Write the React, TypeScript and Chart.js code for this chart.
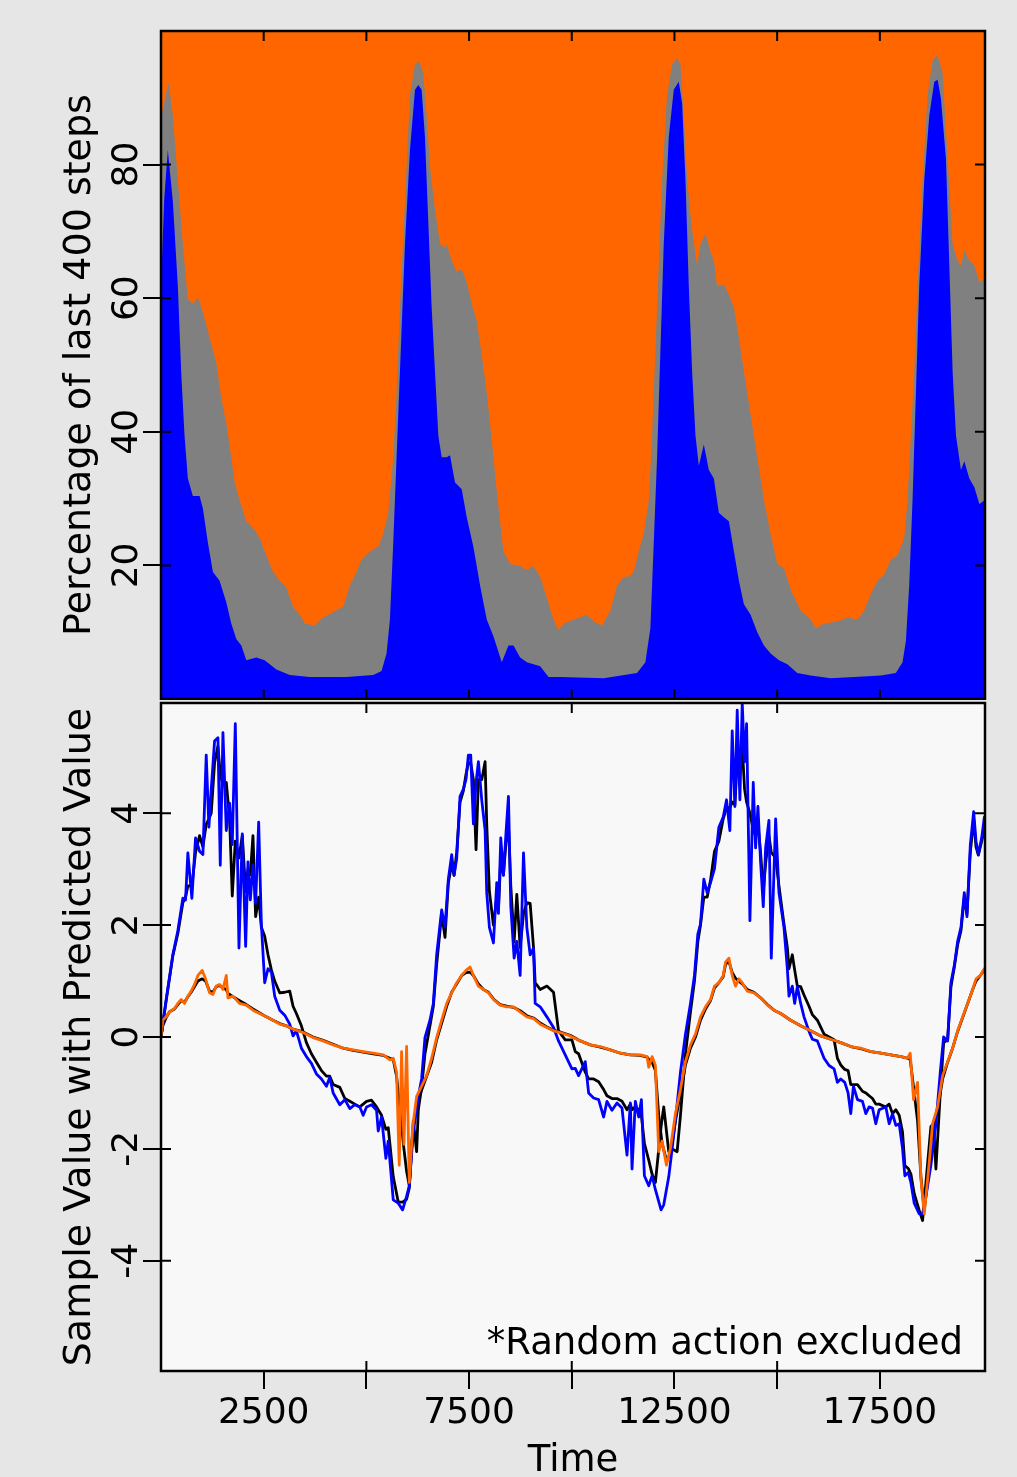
import React, { useEffect, useRef } from 'react';
import { Chart, registerables } from 'chart.js';

Chart.register(...registerables);

const FONT = '"DejaVu Sans", sans-serif';
const X_MAX = 20060;

// ---------- Top panel: cumulative percentage boundaries ----------
const bluePctTime = [
  0, 80, 166, 288, 410, 491, 573, 654, 776, 939,
  1020, 1142, 1264, 1426, 1589, 1711, 1833, 1955, 2077, 2321,
  2524, 2809, 3134, 3622, 4028, 4516, 5166, 5369, 5491, 5573,
  5654, 5735, 5817, 5939, 6061, 6183, 6264, 6345, 6426, 6508,
  6589, 6670, 6752, 6833, 6955, 7036, 7158, 7321, 7443, 7605,
  7768, 7930, 8093, 8296, 8459, 8581, 8743, 8906, 9231, 9434,
  9719, 10776, 11589, 11792, 11914, 11996, 12077, 12158, 12239, 12361,
  12483, 12605, 12687, 12768, 12849, 12930, 13012, 13093, 13215, 13337,
  13459, 13581, 13703, 13825, 13947, 14069, 14191, 14353, 14516, 14678,
  14841, 15044, 15248, 15491, 15817, 16304, 16874, 17524, 17890, 18052,
  18134, 18215, 18296, 18378, 18459, 18581, 18703, 18825, 18906, 18987,
  19109, 19191, 19272, 19354, 19475, 19556, 19679, 19801, 19923, 20060,
];
const bluePct = [
  62, 75, 82.2, 74.5, 61.8, 49, 39.4, 33, 30.4, 30.4,
  28.5, 23.4, 19, 17.7, 14.5, 11.3, 9, 8, 5.8, 6.2,
  5.8, 4.4, 3.6, 3.3, 3.3, 3.3, 3.6, 4.2, 6.8, 11.9,
  23.4, 36.2, 49, 68.1, 82.2, 91.2, 91.9, 91.2, 84.1, 71.3,
  58.6, 49, 39.4, 36.2, 36.2, 36.5, 32.4, 31.4, 27.2, 22.8,
  17, 11.9, 9.4, 5.5, 8, 8, 6.2, 5.5, 4.9, 3.3,
  3.3, 3.1, 3.9, 5.5, 10.6, 23.4, 36.2, 52.2, 68.1, 84.1,
  91.2, 92.4, 89.2, 77.7, 61.8, 49, 39.4, 34.9, 38.1, 34.3,
  33, 27.9, 27.2, 26.6, 22.1, 17.7, 14.2, 12.6, 10, 8,
  6.8, 5.8, 5.2, 3.9, 3.5, 3.1, 3.3, 3.5, 3.9, 5.5,
  8.7, 17, 29.8, 45.8, 61.8, 77.7, 87.3, 92.4, 92.7, 89.9,
  80.9, 65, 49, 39.4, 34.3, 35.6, 33, 31.7, 29.2, 29.8,
];

const blueGrayPctTime = [
  0, 183, 288, 410, 532, 654, 776, 898, 1020, 1183,
  1345, 1467, 1589, 1711, 1792, 1914, 2077, 2280, 2402, 2565,
  2727, 2890, 3052, 3215, 3378, 3500, 3743, 3947, 4150, 4435,
  4597, 4760, 4882, 5085, 5288, 5410, 5532, 5654, 5735, 5817,
  5939, 6061, 6183, 6280, 6386, 6467, 6548, 6670, 6792, 6914,
  6955, 7077, 7199, 7321, 7443, 7565, 7687, 7808, 7930, 8052,
  8174, 8337, 8500, 8743, 8906, 9069, 9231, 9394, 9556, 9678,
  9801, 10044, 10370, 10532, 10735, 10939, 11101, 11264, 11386, 11508,
  11630, 11752, 11874, 11955, 12036, 12117, 12199, 12321, 12443, 12565,
  12646, 12727, 12809, 12930, 13052, 13134, 13256, 13378, 13459, 13540,
  13703, 13825, 13947, 14069, 14191, 14353, 14516, 14678, 14841, 15004,
  15166, 15329, 15573, 15817, 15939, 16142, 16467, 16711, 16955, 17117,
  17280, 17443, 17605, 17768, 17930, 18093, 18174, 18256, 18337, 18418,
  18540, 18662, 18784, 18906, 19028, 19150, 19272, 19394, 19475, 19556,
  19679, 19801, 19923, 20060,
];
const blueGrayPct = [
  87, 92.3, 87.3, 77.7, 68.1, 59.8, 59.2, 60.1, 57.9, 54.1,
  50.3, 45.1, 41.3, 36.2, 32.4, 29.8, 26.6, 25.3, 24.1, 21.5,
  19, 17.7, 16.7, 13.8, 12.6, 11.3, 11, 12.2, 12.9, 13.8,
  17, 19, 20.9, 22.1, 22.8, 24.7, 27.9, 36.2, 45.8, 58.6,
  74.5, 90.5, 95, 95.5, 93.7, 87.3, 79.7, 73.3, 68.1, 67.5,
  68.1, 65.6, 64, 64.3, 62.4, 59.2, 56.6, 51.5, 45.8, 38.8,
  31.1, 22.1, 20.2, 19.9, 19.3, 19.9, 18.3, 15.1, 11.9, 10.3,
  11.3, 11.9, 12.6, 11.6, 11, 13.2, 17, 18.3, 18.3, 19,
  22.1, 24.7, 29.8, 39.4, 52.2, 64.9, 77.7, 90.5, 95, 96,
  95, 87.3, 77.7, 70.1, 64.9, 68.1, 69.7, 66.9, 65.6, 61.8,
  62.1, 60.5, 58.6, 54.1, 49, 42.6, 36.2, 29.8, 24.7, 20.2,
  19.6, 16.4, 13.2, 11.9, 10.6, 11.3, 11.6, 12.2, 11.9, 13.2,
  15.7, 17.7, 18.6, 20.9, 21.5, 24.1, 29.8, 39.4, 49, 61.8,
  77.7, 90.5, 95.6, 96.4, 93.7, 80.9, 68.1, 65.6, 64.9, 67.2,
  65.6, 64.9, 62.4, 63,
];

const totalPctTime = [0, 20060];
const totalPct = [100, 100];

const yTopTicks = [20, 40, 60, 80];
const xMinorTicks = [2500, 5000, 7500, 10000, 12500, 15000, 17500];
const xMajorTicks = [5000, 10000, 15000];
const xTickLabels = ['2500', '7500', '12500', '17500'];

// ---------- Bottom panel: sample vs predicted ----------
const bigTime = [
  0, 126, 288, 410, 532, 597, 654, 752, 841, 939,
  1020, 1101, 1166, 1223, 1304, 1386, 1443, 1508, 1589, 1670,
  1735, 1809, 1898, 1979, 2061, 2117, 2174, 2239, 2304, 2378,
  2443, 2524, 2605, 2687, 2768, 2890, 3012, 3134, 3215, 3296,
  3418, 3540, 3662, 3784, 3906, 4028, 4109, 4191, 4353, 4475,
  4597, 4719, 4841, 4922, 5004, 5126, 5248, 5288, 5369, 5475,
  5532, 5654, 5776, 5882, 5979, 6044, 6142, 6223, 6264, 6345,
  6426, 6548, 6630, 6711, 6833, 6914, 6995, 7077, 7134, 7199,
  7280, 7361, 7426, 7483, 7540, 7605, 7670, 7727, 7808, 7890,
  7930, 7995, 8093, 8174, 8215, 8272, 8337, 8402, 8459, 8516,
  8597, 8662, 8743, 8825, 8906, 8987, 9069, 9109, 9231, 9394,
  9556, 9678, 9841, 10004, 10085, 10166, 10329, 10410, 10532, 10654,
  10776, 10857, 10979, 11101, 11223, 11345, 11426, 11467, 11548, 11630,
  11695, 11768, 11874, 11955, 12036, 12174, 12239, 12361, 12443, 12565,
  12646, 12768, 12890, 12987, 13069, 13134, 13215, 13296, 13378, 13475,
  13581, 13687, 13768, 13849, 13906, 13971, 14028, 14093, 14150, 14207,
  14256, 14337, 14418, 14475, 14532, 14597, 14662, 14719, 14800, 14857,
  14963, 15044, 15166, 15248, 15288, 15369, 15426, 15491, 15573, 15654,
  15776, 15857, 15979, 16142, 16264, 16386, 16467, 16548, 16646, 16727,
  16792, 16857, 16955, 17077, 17158, 17239, 17321, 17402, 17483, 17646,
  17727, 17808, 17890, 17971, 18052, 18109, 18191, 18256, 18337, 18459,
  18540, 18622, 18743, 18808, 18865, 18971, 19053, 19150, 19231, 19313,
  19394, 19475, 19556, 19621, 19703, 19784, 19841, 19898, 19979, 20044,
];
const bluePredicted = [
  0, 0.67, 1.47, 1.9, 2.48, 2.45, 3.29, 2.48, 3.56, 3.32,
  3.26, 5.04, 3.75, 4.43, 5.29, 5.35, 3.07, 5.44, 3.69, 4.18,
  3.44, 5.6, 1.59, 3.63, 1.62, 3.13, 2.45, 3.07, 2.39, 3.84,
  2.02, 0.97, 1.22, 1.16, 0.73, 0.48, 0.39, 0.23, 0.02, 0.11,
  -0.2, -0.35, -0.47, -0.66, -0.75, -0.88, -0.72, -1.0, -1.21, -1.12,
  -1.28, -1.21, -1.25, -1.4, -1.25, -1.21, -1.31, -1.68, -1.43, -2.17,
  -1.86, -2.91, -2.97, -3.09, -2.85, -2.66, -1.68, -1.3, -1.06, -0.75,
  -0.01, 0.3, 0.6, 1.47, 2.27, 1.96, 2.82, 3.26, 2.89, 3.19,
  4.3, 4.43, 4.61, 5.04, 5.04, 3.81, 4.55, 4.92, 4.24, 3.7,
  2.58, 1.96, 1.68, 2.76, 2.21, 3.56, 2.89, 3.69, 4.3, 2.33,
  1.41, 1.71, 1.1, 3.29, 1.96, 1.47, 1.59, 0.6, 0.54, 0.36,
  0.17, -0.07, -0.32, -0.57, -0.56, -0.69, -0.44, -1.0, -1.09, -1.12,
  -1.43, -1.15, -1.31, -1.18, -1.27, -2.11, -1.18, -2.36, -1.15, -1.43,
  -1.12, -2.48, -2.66, -2.48, -2.73, -3.09, -3.0, -2.5, -2.0, -1.2,
  -0.63, 0.05, 0.6, 1.1, 1.84, 2.02, 2.82, 2.58, 2.76, 3.01,
  3.75, 3.93, 4.24, 3.69, 5.47, 4.12, 5.84, 4.24, 5.97, 4.92,
  5.6, 2.08, 4.55, 3.38, 4.12, 3.13, 2.33, 3.38, 3.87, 1.41,
  3.9, 2.58, 1.96, 1.22, 0.73, 0.91, 0.6, 0.9, 0.6, 0.36,
  0.1, -0.04, -0.07, -0.38, -0.51, -0.57, -0.81, -0.75, -0.81, -1.0,
  -1.37, -0.88, -1.12, -1.15, -1.37, -1.25, -1.27, -1.55, -1.3, -1.25,
  -1.55, -1.37, -1.58, -1.55, -1.99, -2.48, -2.42, -2.6, -2.97, -3.16,
  -3.16, -2.85, -2.29, -1.9, -1.55, -0.63, 0.0, -0.07, 0.97, 1.28,
  1.71, 1.96, 2.58, 2.15, 3.44, 4.03, 3.5, 3.26, 3.56, 3.93,
];
const blackSample = [
  0, 0.65, 1.45, 1.85, 2.4, 2.5, 2.7, 2.7, 3.3, 3.6,
  3.4, 3.8, 3.9, 4.0, 4.9, 5.2, 4.7, 4.5, 4.55, 3.9,
  2.52, 3.5, 3.2, 3.6, 2.6, 3.0, 2.9, 3.6, 2.15, 2.5,
  1.96, 1.8, 1.47, 1.2, 1.0, 0.79, 0.8, 0.82, 0.55, 0.42,
  0.2, -0.1, -0.3, -0.45, -0.6, -0.7, -0.7, -0.85, -0.9, -1.1,
  -1.15, -1.2, -1.25, -1.2, -1.15, -1.13, -1.25, -1.3, -1.4, -1.65,
  -1.62, -2.5, -2.95, -2.95, -2.9, -2.7, -1.5, -2.05, -1.3, -0.9,
  -0.3, 0.2, 0.55, 1.3, 2.2, 1.78, 2.75, 3.1, 2.89, 3.3,
  4.2, 4.4, 4.7, 4.9, 4.9, 4.6, 3.35, 4.6, 4.6, 4.92,
  3.8, 2.6, 2.0, 2.5, 2.3, 3.2, 2.9, 3.5, 3.8, 2.7,
  1.7, 2.55, 1.6, 2.2, 2.4, 2.39, 1.6, 0.97, 0.85, 0.91,
  0.8, 0.11, -0.05, -0.05, -0.26, -0.3, -0.63, -0.75, -0.75, -0.8,
  -0.94, -1.05, -1.1, -1.1, -1.15, -1.3, -1.2, -1.3, -1.25, -1.3,
  -1.4, -1.9, -2.2, -2.45, -2.6, -1.6, -1.25, -2.05, -2.0, -2.05,
  -1.4, -0.3, 0.45, 1.0, 1.7, 2.0, 2.5, 2.5, 2.8, 3.32,
  3.5, 3.9, 4.1, 4.1, 4.2, 4.15, 4.92, 4.7, 5.2, 4.43,
  4.2, 4.0, 3.7, 3.6, 3.8, 3.3, 2.6, 3.1, 3.6, 3.3,
  3.2, 2.7, 2.02, 1.6, 1.22, 1.47, 1.2, 0.91, 0.9, 0.75,
  0.55, 0.4, 0.3, 0.05, 0.0, -0.05, -0.38, -0.5, -0.58, -0.6,
  -0.85, -0.85, -0.85, -0.97, -1.0, -1.05, -1.1, -1.2, -1.2, -1.25,
  -1.2, -1.37, -1.3, -1.4, -1.7, -2.3, -2.35, -2.45, -2.8, -3.1,
  -3.28, -2.6, -1.6, -1.55, -2.36, -1.0, -0.1, -0.05, 0.9, 1.25,
  1.65, 1.9, 2.5, 2.2, 3.3, 3.9, 3.4, 3.25, 3.5, 3.7,
];

const smallTime = [
  0, 44, 126, 207, 329, 410, 491, 573, 654, 735,
  817, 898, 1004, 1085, 1183, 1264, 1345, 1426, 1508, 1589,
  1630, 1752, 1914, 2077, 2239, 2402, 2565, 2727, 2890, 3052,
  3215, 3459, 3703, 3947, 4191, 4435, 4678, 4922, 5166, 5410,
  5573, 5654, 5735, 5800, 5857, 5914, 5979, 6044, 6126, 6223,
  6345, 6467, 6589, 6711, 6833, 6955, 7077, 7199, 7321, 7426,
  7524, 7605, 7727, 7849, 7971, 8093, 8256, 8418, 8581, 8743,
  8906, 9069, 9231, 9394, 9556, 9719, 9963, 10207, 10451, 10695,
  10939, 11183, 11426, 11670, 11833, 11874, 11955, 12036, 12117, 12199,
  12304, 12402, 12524, 12646, 12768, 12890, 13012, 13134, 13256, 13378,
  13475, 13581, 13687, 13744, 13825, 13906, 13987, 14069, 14150, 14272,
  14435, 14597, 14760, 14922, 15085, 15329, 15573, 15817, 16061, 16304,
  16548, 16792, 17036, 17280, 17524, 17768, 18012, 18174, 18239, 18321,
  18418, 18500, 18581, 18703, 18784, 18906, 19028, 19150, 19272, 19394,
  19516, 19638, 19760, 19841, 19947, 20044,
];
const orangePredicted = [
  0, 0.3, 0.36, 0.45, 0.51, 0.6, 0.67, 0.6, 0.73, 0.82,
  0.94, 1.1, 1.19, 1.04, 0.79, 0.76, 0.91, 0.94, 0.85, 1.1,
  0.7, 0.73, 0.6, 0.57, 0.48, 0.42, 0.36, 0.3, 0.23, 0.2,
  0.14, 0.08, -0.01, -0.07, -0.14, -0.2, -0.23, -0.26, -0.29, -0.32,
  -0.41, -0.38, -0.63, -2.29, -0.26, -1.92, -0.17, -2.6, -1.62, -1.06,
  -0.88, -0.69, -0.38, -0.01, 0.3, 0.6, 0.79, 0.97, 1.1, 1.19,
  1.25, 1.1, 0.91, 0.85, 0.79, 0.67, 0.57, 0.54, 0.54, 0.45,
  0.36, 0.33, 0.23, 0.17, 0.11, 0.08, 0.02, -0.07, -0.14, -0.17,
  -0.23, -0.29, -0.32, -0.32, -0.35, -0.54, -0.35, -0.51, -2.05, -1.86,
  -2.29, -1.99, -1.37, -0.94, -0.44, -0.14, 0.05, 0.36, 0.54, 0.67,
  0.91, 0.97, 1.1, 1.34, 1.41, 1.1, 0.91, 1.04, 0.97, 0.82,
  0.79, 0.7, 0.57, 0.48, 0.42, 0.3, 0.2, 0.11, 0.02, -0.04,
  -0.1, -0.17, -0.2, -0.26, -0.29, -0.32, -0.35, -0.38, -0.29, -1.12,
  -0.81, -2.54, -3.16, -2.23, -1.55, -1.25, -0.69, -0.44, -0.2, 0.11,
  0.36, 0.6, 0.85, 1.04, 1.1, 1.22,
];
const blackSampleSmall = [
  0, 0.2, 0.35, 0.45, 0.5, 0.58, 0.65, 0.62, 0.72, 0.8,
  0.9, 1.0, 1.04, 1.0, 0.82, 0.8, 0.9, 0.92, 0.88, 0.85,
  0.78, 0.72, 0.65, 0.58, 0.5, 0.43, 0.36, 0.3, 0.24, 0.2,
  0.14, 0.09, 0.0, -0.06, -0.13, -0.2, -0.24, -0.27, -0.3, -0.33,
  -0.38, -0.4, -0.7, -1.2, -1.6, -2.0, -2.4, -2.66, -1.7, -1.2,
  -0.95, -0.7, -0.45, -0.05, 0.25, 0.55, 0.8, 0.95, 1.1, 1.15,
  1.16, 1.1, 0.95, 0.85, 0.8, 0.68, 0.58, 0.55, 0.53, 0.47,
  0.38, 0.34, 0.25, 0.18, 0.12, 0.09, 0.03, -0.07, -0.14, -0.18,
  -0.23, -0.29, -0.32, -0.33, -0.36, -0.4, -0.45, -0.6, -1.4, -1.9,
  -2.2, -2.1, -1.5, -1.0, -0.5, -0.2, 0.0, 0.3, 0.5, 0.65,
  0.88, 0.97, 1.08, 1.3, 1.35, 1.15, 1.05, 1.0, 0.95, 0.85,
  0.8, 0.7, 0.58, 0.48, 0.42, 0.3, 0.2, 0.11, 0.02, -0.04,
  -0.1, -0.17, -0.21, -0.26, -0.29, -0.32, -0.35, -0.38, -0.4, -0.9,
  -1.5, -2.5, -3.1, -2.3, -1.6, -1.3, -0.75, -0.45, -0.2, 0.1,
  0.35, 0.6, 0.85, 1.0, 1.1, 1.2,
];

const yBottomTicks = [-4, -2, 0, 2, 4];

function pts(t: number[], v: number[]) {
  return t.map((x, i) => ({ x, y: v[i] }));
}

function framePlugin(opts: { yTicks: number[]; xTop: number[]; xBottom: number[]; bg?: string; note?: string }) {
  return {
    id: 'frameTicks',
    beforeDraw(chart: any) {
      if (!opts.bg) return;
      const { ctx, chartArea: a } = chart;
      ctx.save();
      ctx.fillStyle = opts.bg;
      ctx.fillRect(a.left, a.top, a.right - a.left, a.bottom - a.top);
      ctx.restore();
    },
    afterDraw(chart: any) {
      const { ctx, chartArea: a, scales } = chart;
      const xs = scales.x;
      const ys = scales.y;
      ctx.save();
      ctx.strokeStyle = '#000';
      ctx.lineWidth = 2;
      ctx.beginPath();
      for (const v of opts.yTicks) {
        const y = ys.getPixelForValue(v);
        ctx.moveTo(a.left, y);
        ctx.lineTo(a.left + 10, y);
        ctx.moveTo(a.right - 10, y);
        ctx.lineTo(a.right, y);
      }
      for (const v of opts.xTop) {
        const x = xs.getPixelForValue(v);
        ctx.moveTo(x, a.top);
        ctx.lineTo(x, a.top + 10);
      }
      for (const v of opts.xBottom) {
        const x = xs.getPixelForValue(v);
        ctx.moveTo(x, a.bottom);
        ctx.lineTo(x, a.bottom - 10);
      }
      ctx.stroke();
      ctx.lineWidth = 2.5;
      ctx.strokeRect(a.left, a.top, a.right - a.left, a.bottom - a.top);
      if (opts.note) {
        ctx.font = `37px ${FONT}`;
        ctx.fillStyle = '#000';
        ctx.textAlign = 'right';
        ctx.textBaseline = 'alphabetic';
        ctx.fillText(opts.note, a.right - 22, a.bottom - 17);
      }
      ctx.restore();
    },
  };
}

function TopChart() {
  const ref = useRef<HTMLCanvasElement | null>(null);
  useEffect(() => {
    if (!ref.current) return;
    const area = (color: string, order: number, data: any[]) => ({
      data,
      order,
      backgroundColor: color,
      borderColor: color,
      borderWidth: 0,
      pointRadius: 0,
      fill: 'origin',
      tension: 0,
    });
    const chart = new Chart(ref.current, {
      type: 'line',
      data: {
        datasets: [
          { label: 'Blue', ...area('#0000ff', 0, pts(bluePctTime, bluePct)) },
          { label: 'Gray', ...area('#808080', 1, pts(blueGrayPctTime, blueGrayPct)) },
          { label: 'Orange', ...area('#ff6600', 2, pts(totalPctTime, totalPct)) },
        ],
      } as any,
      options: {
        responsive: false,
        animation: false,
        events: [],
        layout: { padding: { top: 31, right: 32, bottom: 1, left: 0 } },
        plugins: { legend: { display: false }, tooltip: { enabled: false } },
        scales: {
          x: { type: 'linear', display: false, min: 0, max: X_MAX },
          y: {
            type: 'linear',
            min: 0,
            max: 100,
            afterBuildTicks: (s: any) => {
              s.ticks = yTopTicks.map((v) => ({ value: v }));
            },
            afterFit: (s: any) => {
              s.width = 161;
            },
            grid: { drawOnChartArea: false, drawTicks: true, tickLength: 18, color: '#000', lineWidth: 2 },
            border: { display: false },
            ticks: {
              font: { size: 36, family: FONT, lineHeight: 0.05 },
              color: '#000',
              minRotation: 90,
              maxRotation: 90,
              crossAlign: 'center',
              padding: -7.4,
            },
            title: {
              display: true,
              text: 'Percentage of last 400 steps',
              color: '#000',
              font: { size: 38, family: FONT, lineHeight: 1 },
              padding: { top: 61.2, bottom: 0 },
            },
          },
        },
      } as any,
      plugins: [framePlugin({ yTicks: yTopTicks, xTop: xMinorTicks, xBottom: xMinorTicks })],
    });
    return () => chart.destroy();
  }, []);
  return <canvas ref={ref} width={1017} height={700} style={{ position: 'absolute', left: 0, top: 0 }} />;
}

function BottomChart() {
  const ref = useRef<HTMLCanvasElement | null>(null);
  useEffect(() => {
    if (!ref.current) return;
    const line = (color: string, order: number, data: any[]) => ({
      data,
      order,
      borderColor: color,
      backgroundColor: color,
      borderWidth: 2.8,
      pointRadius: 0,
      fill: false,
      tension: 0,
      borderJoinStyle: 'round',
      borderCapStyle: 'round',
    });
    const chart = new Chart(ref.current, {
      type: 'line',
      data: {
        datasets: [
          { label: 'Predicted (small)', ...line('#ff6600', 0, pts(smallTime, orangePredicted)) },
          { label: 'Predicted', ...line('#0000ff', 1, pts(bigTime, bluePredicted)) },
          { label: 'Sample (small)', ...line('#000000', 2, pts(smallTime, blackSampleSmall)) },
          { label: 'Sample', ...line('#000000', 3, pts(bigTime, blackSample)) },
        ],
      } as any,
      options: {
        responsive: false,
        animation: false,
        events: [],
        layout: { padding: { top: 3, right: 32, bottom: 0, left: 0 } },
        plugins: { legend: { display: false }, tooltip: { enabled: false } },
        scales: {
          x: {
            type: 'linear',
            min: 0,
            max: X_MAX,
            afterBuildTicks: (s: any) => {
              s.ticks = xMinorTicks.map((v) => ({ value: v }));
            },
            afterFit: (s: any) => {
              s.height = 106;
            },
            grid: { drawOnChartArea: false, drawTicks: true, tickLength: 18, color: '#000', lineWidth: 2 },
            border: { display: false },
            ticks: {
              autoSkip: false,
              minRotation: 0,
              maxRotation: 0,
              font: { size: 36, family: FONT, lineHeight: 1 },
              color: '#000',
              padding: 6.5,
              callback: (v: any) => {
                const s = String(v);
                return xTickLabels.includes(s) ? s : '';
              },
            },
            title: {
              display: true,
              text: 'Time',
              color: '#000',
              font: { size: 37, family: FONT, lineHeight: 1 },
              padding: { top: 0, bottom: -2.5 },
            },
          },
          y: {
            type: 'linear',
            min: -5.97,
            max: 5.97,
            afterBuildTicks: (s: any) => {
              s.ticks = yBottomTicks.map((v) => ({ value: v }));
            },
            afterFit: (s: any) => {
              s.width = 161;
            },
            grid: { drawOnChartArea: false, drawTicks: true, tickLength: 18, color: '#000', lineWidth: 2 },
            border: { display: false },
            ticks: {
              font: { size: 36, family: FONT, lineHeight: 0.05 },
              color: '#000',
              minRotation: 90,
              maxRotation: 90,
              crossAlign: 'center',
              padding: -2.45,
            },
            title: {
              display: true,
              text: 'Sample Value with Predicted Value',
              color: '#000',
              font: { size: 38, family: FONT, lineHeight: 1 },
              padding: { top: 61.2, bottom: 0 },
            },
          },
        },
      } as any,
      plugins: [
        framePlugin({
          yTicks: yBottomTicks,
          xTop: xMajorTicks,
          xBottom: xMajorTicks,
          bg: '#f8f8f8',
          note: '*Random action excluded',
        }),
      ],
    });
    return () => chart.destroy();
  }, []);
  return <canvas ref={ref} width={1017} height={777} style={{ position: 'absolute', left: 0, top: 700 }} />;
}

export default function App() {
  return (
    <div
      style={{
        position: 'absolute',
        left: 0,
        top: 0,
        width: 1017,
        height: 1477,
        background: '#e6e6e6',
        overflow: 'hidden',
      }}
    >
      <TopChart />
      <BottomChart />
    </div>
  );
}
